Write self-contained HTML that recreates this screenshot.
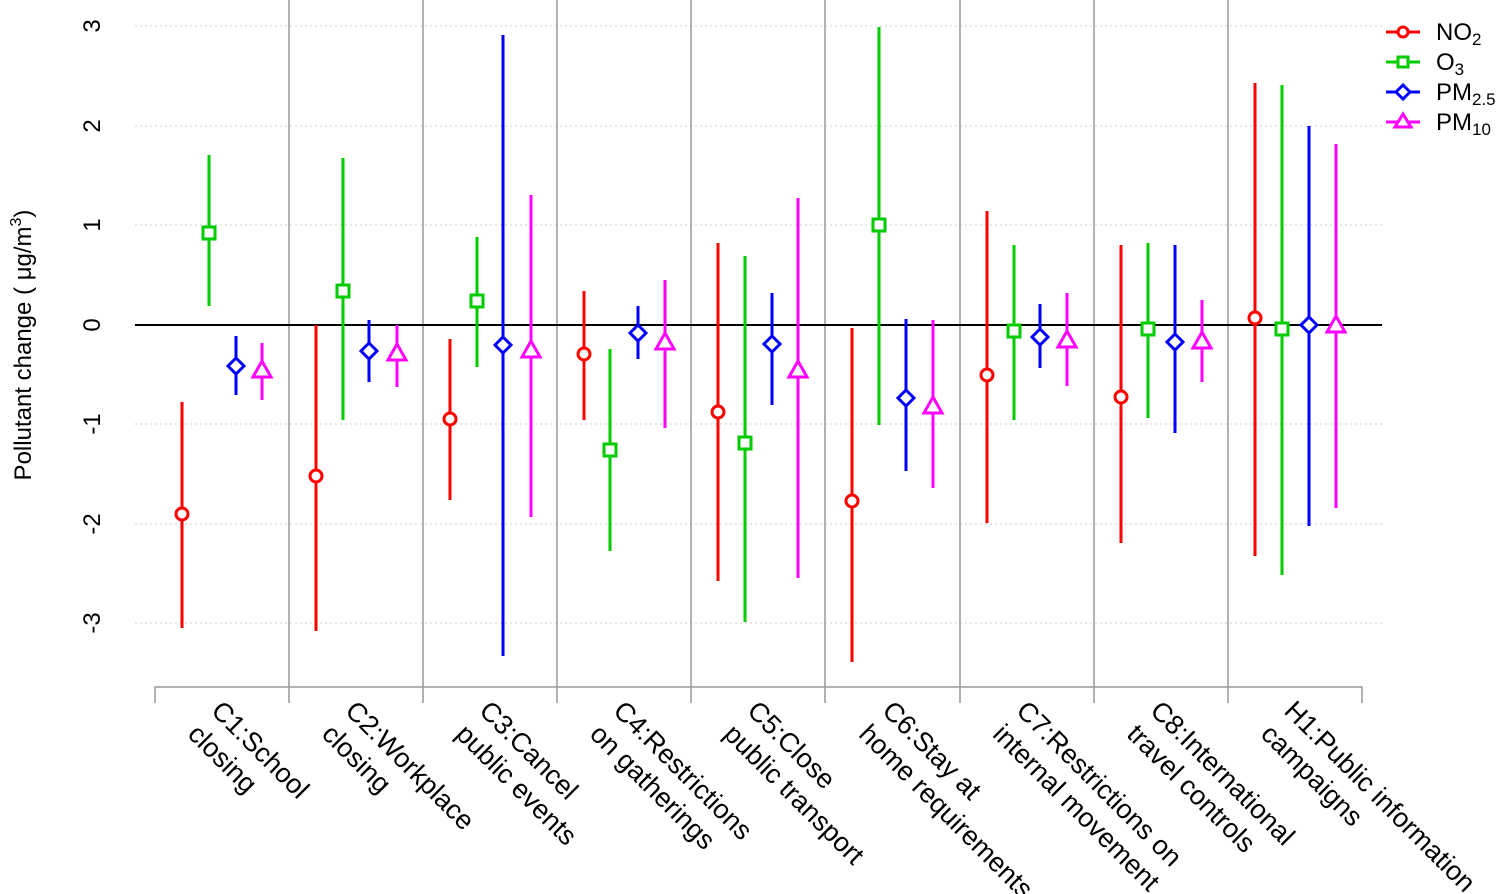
<!DOCTYPE html>
<html><head><style>body{margin:0;background:#fff}svg{display:block}</style></head><body>
<svg width="1502" height="894" xmlns="http://www.w3.org/2000/svg" font-family="Liberation Sans, Arial, sans-serif">
<g stroke="#ccc" stroke-dasharray="2,3" stroke-width="1">
<line x1="135" x2="1382" y1="26" y2="26"/><line x1="135" x2="1382" y1="126" y2="126"/><line x1="135" x2="1382" y1="225" y2="225"/>
<line x1="135" x2="1382" y1="424" y2="424"/><line x1="135" x2="1382" y1="524" y2="524"/><line x1="135" x2="1382" y1="623" y2="623"/>
</g>
<g stroke="#999" stroke-width="1.5" fill="none">
<line x1="289" x2="289" y1="0" y2="703"/><line x1="423" x2="423" y1="0" y2="703"/><line x1="557" x2="557" y1="0" y2="703"/><line x1="691" x2="691" y1="0" y2="703"/>
<line x1="825" x2="825" y1="0" y2="703"/><line x1="960" x2="960" y1="0" y2="703"/><line x1="1094" x2="1094" y1="0" y2="703"/><line x1="1228" x2="1228" y1="0" y2="703"/>
<polyline points="155,703 155,687 1362,687 1362,703"/>
</g>
<line x1="135" x2="1382" y1="325" y2="325" stroke="#000" stroke-width="2"/>
<g font-size="24" fill="#000" text-anchor="middle">
<text transform="translate(100,26) rotate(-90)">3</text><text transform="translate(100,126) rotate(-90)">2</text><text transform="translate(100,225) rotate(-90)">1</text>
<text transform="translate(100,325) rotate(-90)">0</text><text transform="translate(100,424) rotate(-90)">-1</text><text transform="translate(100,524) rotate(-90)">-2</text><text transform="translate(100,623) rotate(-90)">-3</text>
<text transform="translate(31,345) rotate(-90)">Pollutant change ( μg/m<tspan font-size="16" dy="-10">3</tspan><tspan dy="10">)</tspan></text>
</g>
<g stroke-width="3" fill="#fff">
<g stroke="#f00">
<line x1="182" x2="182" y1="402" y2="628"/><circle cx="182" cy="514" r="6"/>
<line x1="316" x2="316" y1="325" y2="631"/><circle cx="316" cy="476" r="6"/>
<line x1="450" x2="450" y1="339" y2="500"/><circle cx="450" cy="419" r="6"/>
<line x1="584" x2="584" y1="291" y2="420"/><circle cx="584" cy="354" r="6"/>
<line x1="718" x2="718" y1="243" y2="581"/><circle cx="718" cy="412" r="6"/>
<line x1="852" x2="852" y1="328" y2="662"/><circle cx="852" cy="501" r="6"/>
<line x1="987" x2="987" y1="211" y2="523"/><circle cx="987" cy="375" r="6"/>
<line x1="1121" x2="1121" y1="245" y2="543"/><circle cx="1121" cy="397" r="6"/>
<line x1="1255" x2="1255" y1="83" y2="556"/><circle cx="1255" cy="318" r="6"/>
</g>
<g stroke="#0c0">
<line x1="209" x2="209" y1="155" y2="306"/><rect x="203" y="227" width="12" height="12"/>
<line x1="343" x2="343" y1="158" y2="420"/><rect x="337" y="285" width="12" height="12"/>
<line x1="477" x2="477" y1="237" y2="367"/><rect x="471" y="295" width="12" height="12"/>
<line x1="610" x2="610" y1="349" y2="551"/><rect x="604" y="444" width="12" height="12"/>
<line x1="745" x2="745" y1="256" y2="622"/><rect x="739" y="437" width="12" height="12"/>
<line x1="879" x2="879" y1="27" y2="425"/><rect x="873" y="219" width="12" height="12"/>
<line x1="1014" x2="1014" y1="245" y2="420"/><rect x="1008" y="325" width="12" height="12"/>
<line x1="1148" x2="1148" y1="243" y2="418"/><rect x="1142" y="323" width="12" height="12"/>
<line x1="1282" x2="1282" y1="85" y2="575"/><rect x="1276" y="323" width="12" height="12"/>
</g>
<g stroke="#00f">
<line x1="236" x2="236" y1="336" y2="395"/><polygon points="236,358 244,366 236,374 228,366"/>
<line x1="369" x2="369" y1="320" y2="382"/><polygon points="369,343 377,351 369,359 361,351"/>
<line x1="503" x2="503" y1="35" y2="656"/><polygon points="503,337 511,345 503,353 495,345"/>
<line x1="638" x2="638" y1="306" y2="359"/><polygon points="638,325 646,333 638,341 630,333"/>
<line x1="772" x2="772" y1="293" y2="405"/><polygon points="772,336 780,344 772,352 764,344"/>
<line x1="906" x2="906" y1="319" y2="471"/><polygon points="906,390 914,398 906,406 898,398"/>
<line x1="1040" x2="1040" y1="304" y2="368"/><polygon points="1040,329 1048,337 1040,345 1032,337"/>
<line x1="1175" x2="1175" y1="245" y2="433"/><polygon points="1175,334 1183,342 1175,350 1167,342"/>
<line x1="1309" x2="1309" y1="126" y2="526"/><polygon points="1309,317 1317,325 1309,333 1301,325"/>
</g>
<g stroke="#f0f">
<line x1="262" x2="262" y1="343" y2="400"/><polygon points="262,361 271,377 253,377"/>
<line x1="397" x2="397" y1="325" y2="387"/><polygon points="397,344 406,360 388,360"/>
<line x1="531" x2="531" y1="195" y2="517"/><polygon points="531,341 540,357 522,357"/>
<line x1="665" x2="665" y1="280" y2="428"/><polygon points="665,333 674,349 656,349"/>
<line x1="798" x2="798" y1="198" y2="578"/><polygon points="798,361 807,377 789,377"/>
<line x1="933" x2="933" y1="320" y2="488"/><polygon points="933,397 942,413 924,413"/>
<line x1="1067" x2="1067" y1="293" y2="386"/><polygon points="1067,331 1076,347 1058,347"/>
<line x1="1202" x2="1202" y1="300" y2="382"/><polygon points="1202,332 1211,348 1193,348"/>
<line x1="1336" x2="1336" y1="144" y2="508"/><polygon points="1336,316 1345,332 1327,332"/>
</g>
<line x1="1386" x2="1420" y1="32" y2="32" stroke="#f00"/><circle cx="1403" cy="32" r="5" stroke="#f00"/>
<line x1="1386" x2="1420" y1="62" y2="62" stroke="#0c0"/><rect x="1398" y="57" width="10" height="10" stroke="#0c0"/>
<line x1="1386" x2="1420" y1="92" y2="92" stroke="#00f"/><polygon points="1403,85 1410,92 1403,99 1396,92" stroke="#00f"/>
<line x1="1386" x2="1420" y1="122" y2="122" stroke="#f0f"/><polygon points="1403,114 1411,127 1395,127" stroke="#f0f"/>
</g>
<g font-size="24" fill="#000">
<text x="1436" y="40">NO<tspan font-size="17" dy="5">2</tspan></text>
<text x="1436" y="70">O<tspan font-size="17" dy="5">3</tspan></text>
<text x="1436" y="100">PM<tspan font-size="17" dy="5">2.5</tspan></text>
<text x="1436" y="130">PM<tspan font-size="17" dy="5">10</tspan></text>
</g>
<g font-size="27" fill="#000">
<g transform="translate(224,698) rotate(45)"><text x="0" y="20">C1:School</text><text x="0" y="53">closing</text></g>
<g transform="translate(358,698) rotate(45)"><text x="0" y="20">C2:Workplace</text><text x="0" y="53">closing</text></g>
<g transform="translate(492,698) rotate(45)"><text x="0" y="20">C3:Cancel</text><text x="0" y="53">public events</text></g>
<g transform="translate(626,698) rotate(45)"><text x="0" y="20">C4:Restrictions</text><text x="0" y="53">on gatherings</text></g>
<g transform="translate(760,698) rotate(45)"><text x="0" y="20">C5:Close</text><text x="0" y="53">public transport</text></g>
<g transform="translate(895,698) rotate(45)"><text x="0" y="20">C6:Stay at</text><text x="0" y="53">home requirements</text></g>
<g transform="translate(1029,698) rotate(45)"><text x="0" y="20">C7:Restrictions on</text><text x="0" y="53">internal movement</text></g>
<g transform="translate(1163,698) rotate(45)"><text x="0" y="20">C8:International</text><text x="0" y="53">travel controls</text></g>
<g transform="translate(1297,698) rotate(45)"><text x="0" y="20">H1:Public information</text><text x="0" y="53">campaigns</text></g>
</g>
</svg>
</body></html>
